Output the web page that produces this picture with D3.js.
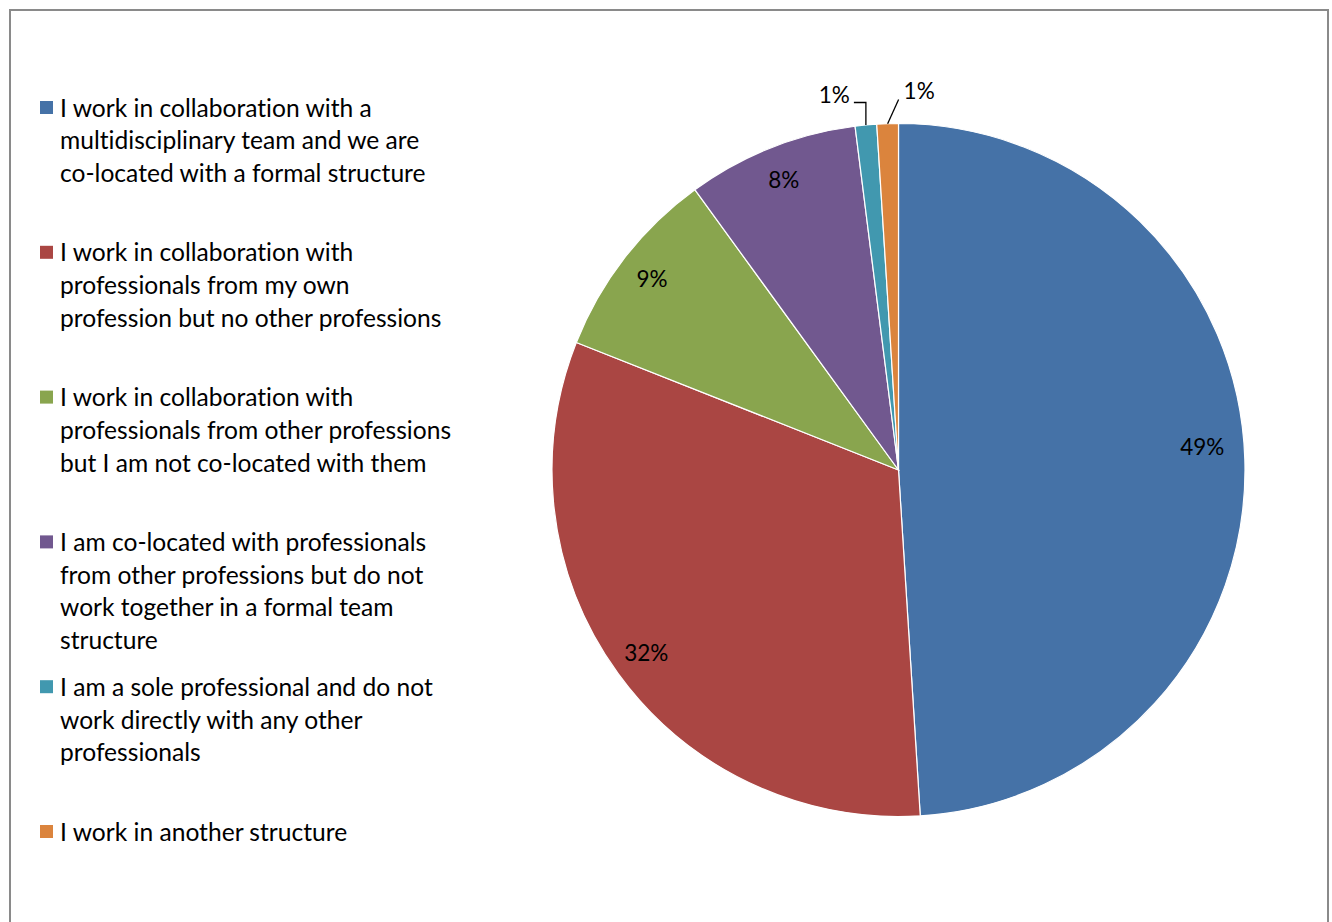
<!DOCTYPE html>
<html><head><meta charset="utf-8">
<script src="https://cdn.jsdelivr.net/npm/d3@7"></script>
<style>html,body{margin:0;padding:0;background:#fff;overflow:hidden} text{font-variant-ligatures:none;font-feature-settings:"liga" 0}</style>
</head><body>
<svg id="chart" width="1332" height="922"></svg>
<script>
const categories = [
  "I work in collaboration with a multidisciplinary team and we are co-located with a formal structure",
  "I work in collaboration with professionals from my own profession but no other professions",
  "I work in collaboration with professionals from other professions but I am not co-located with them",
  "I am co-located with professionals from other professions but do not work together in a formal team structure",
  "I am a sole professional and do not work directly with any other professionals",
  "I work in another structure"
];
const legendLines = [
  ["I work in collaboration with a", "multidisciplinary team and we are", "co-located with a formal structure"],
  ["I work in collaboration with", "professionals from my own", "profession but no other professions"],
  ["I work in collaboration with", "professionals from other professions", "but I am not co-located with them"],
  ["I am co-located with professionals", "from other professions but do not", "work together in a formal team", "structure"],
  ["I am a sole professional and do not", "work directly with any other", "professionals"],
  ["I work in another structure"]
];
const values = [49, 32, 9, 8, 1, 1];
const colors = ["#4572A7", "#AA4643", "#89A54E", "#71588F", "#4198AF", "#DB843D"];

const svg = d3.select("#chart");
const font = "Lato, 'Open Sans', sans-serif";

svg.append("rect").attr("x", 10).attr("y", 10).attr("width", 1318).attr("height", 940)
  .attr("fill", "none").attr("stroke", "#8a8a8a").attr("stroke-width", 2);

const cx = 898.5, cy = 470, R = 346.5;
const data = values.map((v, i) => ({v, i, name: categories[i]}));
const pie = d3.pie().value(d => d.v).sort(null);
const arcs = pie(data);
const arc = d3.arc().innerRadius(0).outerRadius(R);
const g = svg.append("g").attr("transform", `translate(${cx},${cy})`);
g.selectAll("path").data(arcs).join("path")
  .attr("d", arc).attr("fill", d => colors[d.data.i])
  .attr("stroke", "#fff").attr("stroke-width", 1.2);

const labelArc = d3.arc().innerRadius(R * 0.9).outerRadius(R * 0.9);
const fmt = v => d3.format(".0f")(v) + "%";
const pfs = 22.5;
arcs.forEach(a => {
  if (a.data.v >= 5) {
    let [x, y] = labelArc.centroid(a);
    if (a.data.i === 0) { x -= 8; y -= 13; }
    g.append("text").attr("x", x).attr("y", y).attr("dy", "0.35em")
      .attr("text-anchor", "middle").attr("font-family", font).attr("font-size", pfs)
      .attr("fill", "#000").text(fmt(a.data.v));
  } else {
    const mid = (a.startAngle + a.endAngle) / 2;
    const ex = R * Math.sin(mid), ey = -R * Math.cos(mid);
    const topY = -R - 24;
    if (a.data.i === 4) {
      g.append("path").attr("d", `M${ex},${ey}V${topY + 3}H${ex - 12}`)
        .attr("fill", "none").attr("stroke", "#000").attr("stroke-width", 1.3);
      g.append("text").attr("x", ex - 16).attr("y", topY - 4).attr("dy", "0.35em")
        .attr("text-anchor", "end").attr("font-family", font).attr("font-size", pfs)
        .text(fmt(a.data.v));
    } else {
      g.append("path").attr("d", `M${ex},${ey}L${ex + 11},${topY}`)
        .attr("fill", "none").attr("stroke", "#000").attr("stroke-width", 1.3);
      g.append("text").attr("x", ex + 16).attr("y", topY - 8).attr("dy", "0.35em")
        .attr("text-anchor", "start").attr("font-family", font).attr("font-size", pfs)
        .text(fmt(a.data.v));
    }
  }
});

const leg = svg.append("g");
const itemY = d3.scaleLinear().domain([0, 5]).range([108, 832]);
legendLines.forEach((lines, i) => {
  const y0 = itemY(i);
  leg.append("rect").attr("x", 40).attr("y", y0 - 7).attr("width", 13).attr("height", 13)
    .attr("fill", colors[i]);
  lines.forEach((t, j) => {
    leg.append("text").attr("x", 60).attr("y", y0 + j * 32.7).attr("dy", "0.35em")
      .attr("font-family", font).attr("font-size", 24.6).attr("fill", "#000").text(t);
  });
});
</script>
</body></html>
